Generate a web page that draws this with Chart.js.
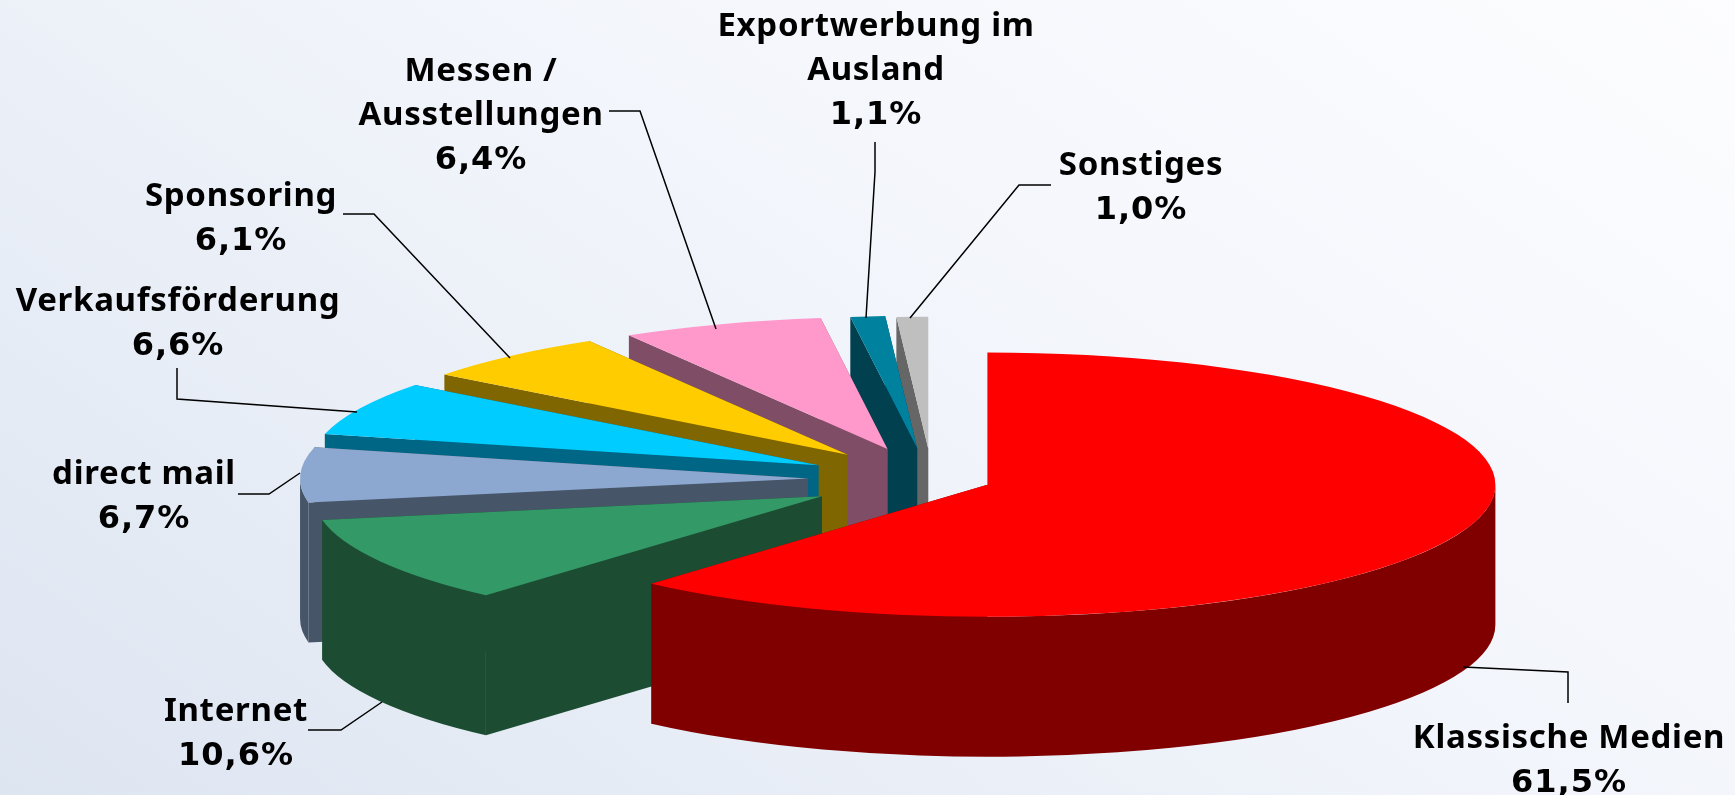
<!DOCTYPE html>
<html lang="de">
<head>
<meta charset="utf-8">
<title>Werbeausgaben</title>
<script src="https://cdn.jsdelivr.net/npm/chart.js@4"></script>
<style>
  html, body { margin: 0; padding: 0; width: 1735px; height: 795px; overflow: hidden; }
  body { background: linear-gradient(215deg, #fdfdff 0%, #f2f5fb 45%, #dde5f1 100%); }
  canvas { display: block; }
</style>
</head>
<body>
<canvas id="pieChart" width="1735" height="795"></canvas>
<script>
const categories = ["Klassische Medien", "Internet", "direct mail", "Verkaufsförderung", "Sponsoring", "Messen / Ausstellungen", "Exportwerbung im Ausland", "Sonstiges"];
const shareValues = [61.5, 10.6, 6.7, 6.6, 6.1, 6.4, 1.1, 1.0];
const topColors = ["#ff0000", "#339966", "#8da8d0", "#00ccff", "#ffcc00", "#ff99cc", "#00829e", "#bfbfbf"];
const wallColors = ["#800000", "#1c4d33", "#465568", "#006685", "#806600", "#804d66", "#00404f", "#666666"];
const explodePx = [56, 130, 127, 127, 127, 124, 122, 118];
// the back slices sit a little further left in the original's perspective
const nudgeX = [0, 0, 0, -2, -3, -7, -6, -3];

// how the pie is tilted
const SQUASH = 0.26;
const DEPTH = 140;
const RADIUS = 508;

// label text lines, centre x, first baseline and the leader line
const labelLines = [
  ["Klassische Medien"], ["Internet"], ["direct mail"], ["Verkaufsförderung"],
  ["Sponsoring"], ["Messen /", "Ausstellungen"], ["Exportwerbung im", "Ausland"], ["Sonstiges"],
];
const labelAnchors = [[1569, 748], [236, 721], [144, 484], [178, 311], [241, 206], [481, 81], [876, 36], [1141, 175]];
const leaders = [
  [[1463, 667], [1568, 672], [1568, 703]],
  [[308, 730], [341, 730], [382, 702]],
  [[238, 494], [269, 494], [300, 473]],
  [[177, 368], [177, 399], [357, 412]],
  [[343, 214], [374, 214], [510, 358]],
  [[609, 111], [640, 111], [716, 329]],
  [[875, 142], [875, 172], [866, 318]],
  [[1051, 185], [1019, 185], [910, 318]],
];

const pie3d = {
  id: "pie3d",
  beforeDatasetsDraw(chart) {
    const ctx = chart.ctx;
    const arcs = chart.getDatasetMeta(0).data;
    // back slices first, the big red one last
    for (let i = arcs.length - 1; i >= 0; i--) {
      const el = arcs[i];
      const mid = (el.startAngle + el.endAngle) / 2;
      const dx = Math.cos(mid) * explodePx[i] + nudgeX[i];
      const dy = Math.sin(mid) * explodePx[i];
      const cx = el.x + dx;
      const cy = el.y + dy * SQUASH;
      const ry = el.outerRadius * SQUASH;

      ctx.fillStyle = wallColors[i];

      // the two cut faces
      [el.startAngle, el.endAngle].forEach((a) => {
        const rimX = cx + Math.cos(a) * el.outerRadius;
        const rimY = cy + Math.sin(a) * ry;
        ctx.beginPath();
        ctx.moveTo(cx, cy);
        ctx.lineTo(rimX, rimY);
        ctx.lineTo(rimX, rimY + DEPTH);
        ctx.lineTo(cx, cy + DEPTH);
        ctx.closePath();
        ctx.fill();
      });

      // the curved outer face, only the part turned to the viewer
      const from = Math.max(el.startAngle, 0);
      const to = Math.min(el.endAngle, Math.PI);
      if (to > from) {
        ctx.beginPath();
        ctx.ellipse(cx, cy, el.outerRadius, ry, 0, from, to);
        ctx.ellipse(cx, cy + DEPTH, el.outerRadius, ry, 0, to, from, true);
        ctx.closePath();
        ctx.fill();
      }

      // top face, drawn by the arc element itself
      ctx.save();
      ctx.translate(0, el.y);
      ctx.scale(1, SQUASH);
      ctx.translate(dx, dy - el.y);
      el.draw(ctx);
      ctx.restore();
    }
    return false;
  },
  afterDraw(chart) {
    const ctx = chart.ctx;
    ctx.save();
    ctx.strokeStyle = "#000";
    ctx.lineWidth = 1.5;
    leaders.forEach((pts) => {
      ctx.beginPath();
      pts.forEach((p, i) => (i ? ctx.lineTo(p[0], p[1]) : ctx.moveTo(p[0], p[1])));
      ctx.stroke();
    });

    ctx.fillStyle = "#000";
    ctx.textAlign = "center";
    ctx.textBaseline = "alphabetic";
    labelLines.forEach((lines, i) => {
      const x = labelAnchors[i][0];
      const y = labelAnchors[i][1];
      ctx.font = "bold 33px 'Noto Sans'";
      ctx.letterSpacing = "0.7px";
      lines.forEach((line, n) => ctx.fillText(line, x, y + n * 44));
      ctx.font = "bold 32px 'DejaVu Sans'";
      ctx.letterSpacing = "1px";
      const percent = shareValues[i].toFixed(1).replace(".", ",") + "%";
      ctx.fillText(percent, x, y + lines.length * 44);
    });
    ctx.restore();
  },
};

new Chart(document.getElementById("pieChart"), {
  type: "pie",
  data: {
    labels: categories,
    datasets: [
      {
        data: shareValues,
        backgroundColor: topColors,
        borderWidth: 0,
      },
    ],
  },
  options: {
    responsive: false,
    animation: false,
    radius: RADIUS,
    // puts the pie centre at x 935, y 479.5
    layout: { padding: { left: 135, top: 164 } },
    plugins: {
      legend: { display: false },
      tooltip: { enabled: false },
    },
  },
  plugins: [pie3d],
});
</script>
</body>
</html>
